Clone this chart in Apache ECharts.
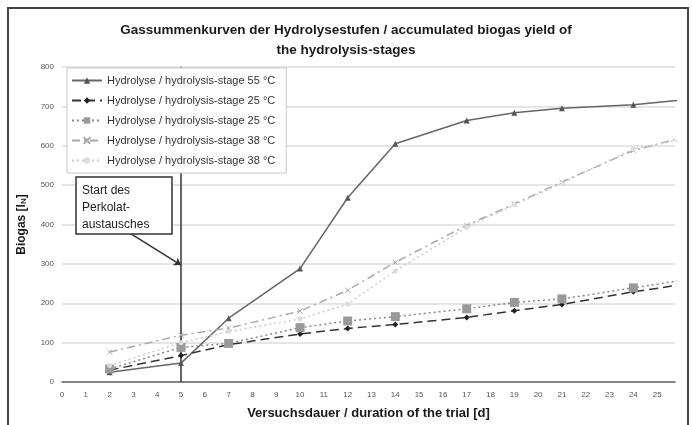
<!DOCTYPE html>
<html>
<head>
<meta charset="utf-8">
<script src="https://cdn.jsdelivr.net/npm/echarts@6/dist/echarts.min.js"></script>
<style>
  html, body { margin: 0; padding: 0; background: #fff; }
  #chart { width: 692px; height: 425px; }
</style>
</head>
<body>
<div id="chart"></div>
<script>
// days of measurement (last one lies just past the visible axis end)
var days = [2, 5, 7, 10, 12, 14, 17, 19, 21, 24, 26];

var names = [
    'Hydrolyse / hydrolysis-stage 55 °C',
    'Hydrolyse / hydrolysis-stage 25 °C',
    'Hydrolyse / hydrolysis-stage 25 °C ',
    'Hydrolyse / hydrolysis-stage 38 °C',
    'Hydrolyse / hydrolysis-stage 38 °C '
];

var stage55 = [25, 48, 162, 288, 468, 605, 664, 684, 695, 704, 716];
var stage25a = [30, 67, 95, 122, 136, 146, 164, 181, 197, 229, 247];
var stage25b = [33, 88, 98, 138, 155, 166, 186, 202, 211, 239, 258];
var stage38a = [76, 119, 137, 180, 233, 304, 398, 452, 508, 588, 620];
var stage38b = [42, 100, 128, 160, 198, 282, 393, 450, 505, 592, 615];

var yTicks = [0, 100, 200, 300, 400, 500, 600, 700, 800];

function pairs(vals) {
    return days.map(function (d, i) { return [d, vals[i]]; });
}

var chart = echarts.init(document.getElementById('chart'));

var crossPath = 'path://M0,0L10,10M10,0L0,10';

chart.setOption({
    animation: false,
    backgroundColor: '#fff',
    textStyle: {fontFamily: 'Liberation Sans, Arial, sans-serif'},
    title: {
        text: 'Gassummenkurven der Hydrolysestufen / accumulated biogas yield of\nthe hydrolysis-stages',
        left: 'center',
        top: 15,
        textStyle: {fontSize: 13.5, fontWeight: 'bold', color: '#1a1a1a', lineHeight: 20}
    },
    grid: {left: 62, right: 17, top: 67, bottom: 43},
    legend: {
        orient: 'vertical',
        left: 67,
        top: 68,
        z: 20,
        itemWidth: 30,
        itemHeight: 8,
        itemGap: 9,
        padding: [7, 8, 7, 4],
        borderColor: '#c8c8c8',
        borderWidth: 1,
        backgroundColor: '#fff',
        textStyle: {fontSize: 11, color: '#333'},
        data: names
    },
    xAxis: {
        type: 'value',
        min: 0,
        max: 25.75,
        interval: 1,
        name: 'Versuchsdauer / duration of the trial [d]',
        nameLocation: 'middle',
        nameGap: 25,
        nameTextStyle: {fontSize: 13, fontWeight: 'bold', color: '#1a1a1a'},
        axisLine: {lineStyle: {color: '#666', width: 1.5}},
        axisTick: {show: false},
        splitLine: {show: false},
        axisLabel: {fontSize: 8, color: '#555', showMaxLabel: false, margin: 9}
    },
    yAxis: {
        type: 'value',
        min: yTicks[0],
        max: yTicks[yTicks.length - 1],
        interval: 100,
        name: 'Biogas [l{sub|N}]',
        nameLocation: 'middle',
        nameGap: 34,
        nameTextStyle: {
            fontSize: 12, fontWeight: 'bold', color: '#1a1a1a',
            rich: {sub: {fontSize: 8, fontWeight: 'bold', verticalAlign: 'bottom', padding: [4, 0, 0, 0]}}
        },
        axisLine: {show: false},
        axisTick: {show: false},
        splitLine: {lineStyle: {color: '#ddd', width: 1.5}},
        axisLabel: {fontSize: 8, color: '#555', margin: 8}
    },
    graphic: [
        {
            type: 'rect',
            shape: {x: 8, y: 8, width: 680, height: 430},
            style: {fill: 'none', stroke: '#444', lineWidth: 2},
            silent: true
        },
        {
            type: 'rect',
            z: 30,
            shape: {x: 76, y: 177, width: 96, height: 57},
            style: {fill: '#fff', stroke: '#333', lineWidth: 1.5}
        },
        {
            type: 'text',
            z: 31,
            x: 82,
            y: 182,
            style: {
                text: 'Start des\nPerkolat-\naustausches',
                fontSize: 12,
                lineHeight: 17,
                fill: '#222',
                fontFamily: 'Liberation Sans, Arial, sans-serif'
            }
        }
    ],
    series: [
        {
            name: names[0],
            type: 'line',
            data: pairs(stage55),
            symbol: 'triangle',
            symbolSize: 6,
            lineStyle: {color: '#666', width: 1.5},
            itemStyle: {color: '#555'},
            markLine: {
                silent: true,
                symbol: 'none',
                z: 1,
                label: {show: false},
                lineStyle: {color: '#333', width: 1.5, type: 'solid'},
                data: [
                    {xAxis: 5},
                    [
                        {coord: [2.8, 380], symbol: 'none'},
                        {coord: [5, 297], symbol: 'arrow', symbolSize: 7}
                    ]
                ]
            }
        },
        {
            name: names[1],
            type: 'line',
            data: pairs(stage25a),
            symbol: 'diamond',
            symbolSize: 6,
            lineStyle: {color: '#333', width: 1.5, type: [9, 5]},
            itemStyle: {color: '#222'}
        },
        {
            name: names[2],
            type: 'line',
            data: pairs(stage25b),
            symbol: 'rect',
            symbolSize: 9,
            lineStyle: {color: '#888', width: 1.5, type: [2, 3]},
            itemStyle: {color: '#999'}
        },
        {
            name: names[3],
            type: 'line',
            data: pairs(stage38a),
            symbol: crossPath,
            symbolSize: 5,
            lineStyle: {color: '#aaa', width: 1.5, type: [8, 4, 2, 4]},
            itemStyle: {color: '#aaa', borderColor: '#aaa', borderWidth: 1}
        },
        {
            name: names[4],
            type: 'line',
            data: pairs(stage38b),
            symbol: 'circle',
            symbolSize: 5,
            lineStyle: {color: '#ccc', width: 1.5, type: [2, 3]},
            itemStyle: {color: '#ddd'}
        }
    ]
});
</script>
</body>
</html>
